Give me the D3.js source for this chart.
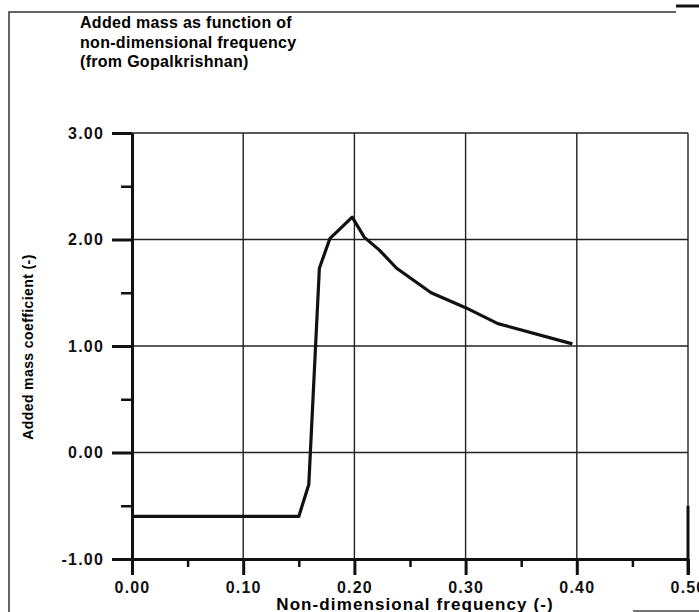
<!DOCTYPE html>
<html>
<head>
<meta charset="utf-8">
<script src="https://cdn.jsdelivr.net/npm/d3@7.9.0/dist/d3.min.js"></script>
<style>
  html, body { margin: 0; padding: 0; background: #fff; }
  svg { display: block; font-family: "Liberation Sans", Arial, sans-serif; }
</style>
</head>
<body>
<svg id="chart" width="699" height="612"></svg>
<script>
// data
const freq = [0, 0.15, 0.159, 0.1685, 0.178, 0.184, 0.198, 0.209, 0.2225, 0.238, 0.269, 0.30, 0.329, 0.396];
const addedMass = [-0.6, -0.6, -0.30, 1.73, 2.01, 2.07, 2.21, 2.02, 1.90, 1.73, 1.50, 1.36, 1.21, 1.02];

const xTicks = [0, 0.1, 0.2, 0.3, 0.4, 0.5];
const xMinor = [0.05, 0.15, 0.25, 0.35, 0.45];
const yTicks = [-1, 0, 1, 2, 3];
const yMinor = [-0.5, 0.5, 1.5, 2.5];

const titleLines = ['Added mass as function of', 'non-dimensional frequency', '(from Gopalkrishnan)'];
const xLabel = 'Non-dimensional frequency (-)';
const yLabel = 'Added mass coefficient (-)';

const svg = d3.select('#chart');
const x = d3.scaleLinear().domain([0, 0.5]).range([132, 688]);
const y = d3.scaleLinear().domain([-1, 3]).range([559, 133]);
const fmt = d => d.toFixed(2); // plain hyphen for -1.00

// page frame (scanned page edges)
svg.append('path')
  .attr('d', 'M9,612V12H676')
  .attr('fill', 'none').attr('stroke', '#333').attr('stroke-width', 1.5);
svg.append('line')
  .attr('x1', 676).attr('x2', 699).attr('y1', 6).attr('y2', 6)
  .attr('stroke', '#111').attr('stroke-width', 3);
svg.append('line')
  .attr('x1', 633).attr('x2', 699).attr('y1', 611).attr('y2', 611)
  .attr('stroke', '#444').attr('stroke-width', 1.5);

// title
svg.append('g')
  .selectAll('text')
  .data(titleLines)
  .join('text')
  .attr('x', 80)
  .attr('y', (d, i) => 28 + i * 19.5)
  .attr('font-size', 16)
  .attr('font-weight', 'bold')
  .attr('letter-spacing', 0.3)
  .text(d => d);

// grid
const grid = svg.append('g').attr('stroke', '#222').attr('stroke-width', 1.4);
grid.selectAll('.gx')
  .data(xTicks.slice(1))
  .join('line')
  .attr('x1', d => x(d)).attr('x2', d => x(d))
  .attr('y1', y(3)).attr('y2', y(-1));
grid.selectAll('.gy')
  .data(yTicks.slice(1))
  .join('line')
  .attr('x1', x(0)).attr('x2', x(0.5))
  .attr('y1', d => y(d)).attr('y2', d => y(d));

// right border a bit heavier near the bottom
svg.append('line')
  .attr('x1', x(0.5)).attr('x2', x(0.5))
  .attr('y1', y(-0.5)).attr('y2', y(-1) + 16)
  .attr('stroke', '#111').attr('stroke-width', 3);

// minor ticks
svg.append('g')
  .attr('transform', `translate(0,${y(-1)})`)
  .call(d3.axisBottom(x).tickValues(xMinor).tickSize(8).tickFormat(''))
  .call(g => g.select('.domain').remove())
  .call(g => g.selectAll('line').attr('stroke', '#111').attr('stroke-width', 2.5));
svg.append('g')
  .attr('transform', `translate(${x(0)},0)`)
  .call(d3.axisLeft(y).tickValues(yMinor).tickSize(11).tickFormat(''))
  .call(g => g.select('.domain').remove())
  .call(g => g.selectAll('line').attr('stroke', '#111').attr('stroke-width', 2.5));

// major axes
const xAxis = svg.append('g')
  .attr('transform', `translate(0,${y(-1)})`)
  .call(d3.axisBottom(x).tickValues(xTicks).tickSize(16).tickSizeOuter(0).tickPadding(7).tickFormat(fmt));
const yAxis = svg.append('g')
  .attr('transform', `translate(${x(0)},0)`)
  .call(d3.axisLeft(y).tickValues(yTicks).tickSize(20).tickSizeOuter(0).tickPadding(8).tickFormat(fmt));

[xAxis, yAxis].forEach(g => {
  g.select('.domain').attr('stroke', '#111').attr('stroke-width', 3);
  g.selectAll('.tick line').attr('stroke', '#111').attr('stroke-width', 3);
  g.selectAll('.tick text')
    .attr('fill', '#111')
    .attr('font-size', 16)
    .attr('font-weight', 'bold')
    .attr('letter-spacing', 1.2)
    .attr('font-family', '"Liberation Sans", Arial, sans-serif');
});
xAxis.selectAll('.tick text').attr('dy', '0.68em');

// axis titles
svg.append('text')
  .attr('x', 415).attr('y', 610)
  .attr('text-anchor', 'middle')
  .attr('font-size', 17)
  .attr('font-weight', 'bold')
  .attr('letter-spacing', 1.1)
  .text(xLabel);
svg.append('text')
  .attr('transform', 'translate(33,347) rotate(-90)')
  .attr('text-anchor', 'middle')
  .attr('font-size', 14)
  .attr('font-weight', 'bold')
  .attr('letter-spacing', 0.4)
  .text(yLabel);

// curve
const pts = freq.map((f, i) => [f, addedMass[i]]);
svg.append('path')
  .datum(pts)
  .attr('fill', 'none')
  .attr('stroke', '#111')
  .attr('stroke-width', 3.2)
  .attr('stroke-linejoin', 'round')
  .attr('d', d3.line().x(d => x(d[0])).y(d => y(d[1])));
</script>
</body>
</html>
